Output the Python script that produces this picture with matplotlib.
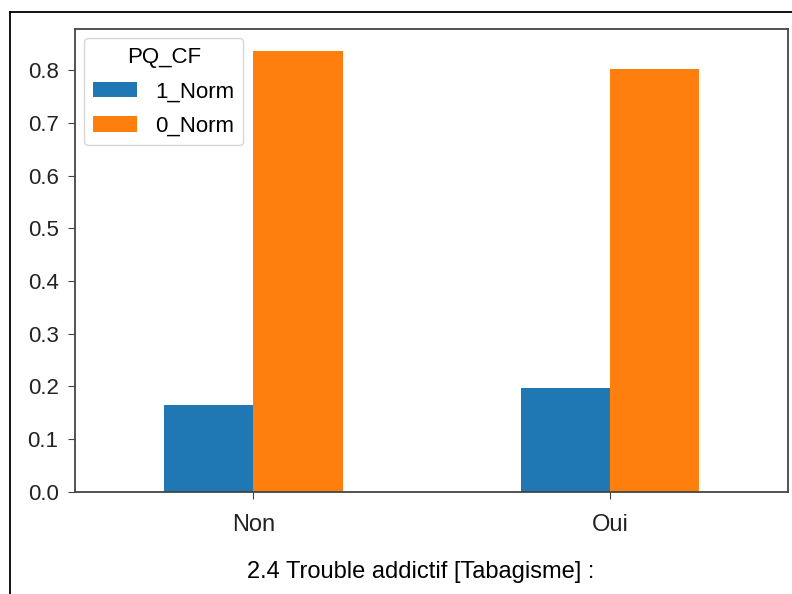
import matplotlib.pyplot as plt
import numpy as np
from matplotlib.lines import Line2D

plt.rcParams['font.family'] = ['Liberation Sans', 'DejaVu Sans']

# Datos
categories = ['Non', 'Oui']
series_names = ['1_Norm', '0_Norm']
norm_1 = [0.164, 0.197]
norm_0 = [0.836, 0.803]

fig = plt.figure(figsize=(7.92, 5.94), dpi=100)
ax = fig.add_axes([0.095, 0.172, 0.9, 0.779])

x = np.arange(len(categories))
w = 0.25
ax.bar(x - w / 2, norm_1, w, color='#1f77b4', label=series_names[0])
ax.bar(x + w / 2, norm_0, w, color='#ff7f0e', label=series_names[1])

ax.set_xlim(-0.5, 1.5)
ax.set_ylim(0, 0.878)
ax.set_xticks(x)
ax.set_xticklabels(categories, fontsize=17)
ax.set_yticks(np.arange(0, 0.81, 0.1))
ax.set_yticklabels([f'{v:.1f}' for v in np.arange(0, 0.81, 0.1)], fontsize=16)
ax.tick_params(axis='both', length=5, pad=7, color='#444444', labelcolor='#222222')
ax.tick_params(axis='x', pad=11)
for s in ax.spines.values():
    s.set_color('#444444')
    s.set_linewidth(1.3)
ax.set_xlabel('2.4 Trouble addictif [Tabagisme] :', fontsize=17, labelpad=18, x=0.485)

leg = ax.legend(title='PQ_CF', loc='upper left', fontsize=16, title_fontsize=16,
                handlelength=2.0, labelspacing=0.6, borderaxespad=0.4)

# cadre autour de la capture
fig.add_artist(Line2D([10 / 792, 10 / 792], [0, 1 - 12 / 594], color='black', lw=1.3))
fig.add_artist(Line2D([10 / 792, 1], [1 - 12 / 594, 1 - 12 / 594], color='black', lw=1.3))

fig.savefig('out.png', dpi=100)
